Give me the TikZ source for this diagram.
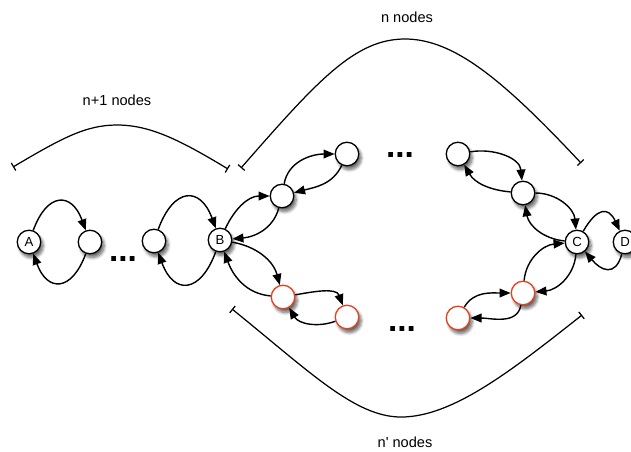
\documentclass[tikz,border=0pt]{standalone}
\usepackage{fontspec}
\newfontfamily\labelfont{Liberation Sans}
\usetikzlibrary{arrows.meta,shadows.blur}
\definecolor{ringred}{RGB}{232,62,28}
\tikzset{
  vertex/.style={circle,draw=black,fill=white,line width=0.75pt,minimum size=13.4pt,inner sep=0pt,
    font=\labelfont\fontsize{7.5}{8}\selectfont,
    blur shadow={shadow xshift=1.4pt,shadow yshift=-2.2pt,shadow blur steps=7,shadow opacity=60}},
  redvertex/.style={vertex,draw=ringred},
  link/.style={line width=0.8pt,-{Triangle[length=6.3pt,width=5pt]}},
  brace/.style={line width=0.7pt,{Bar[width=5pt]}-{Bar[width=5pt]}},
  caption/.style={font=\labelfont\fontsize{8.3}{10}\selectfont},
  gap/.style={font=\labelfont\bfseries\fontsize{19}{20}\selectfont,inner sep=0pt}
}
\begin{document}
\begin{tikzpicture}[x=0.02cm,y=0.02cm]
\useasboundingbox (0,0) rectangle (631,-451);

% left chain
\node[vertex] (A)  at (29,-242) {A};
\node[vertex] (a2) at (90,-242) {};
\node[vertex] (b0) at (154,-241) {};
\node[vertex] (B)  at (220,-240) {B};
% upper branch
\node[vertex] (u1) at (282,-196) {};
\node[vertex] (u2) at (347,-154) {};
\node[vertex] (v1) at (458,-154) {};
\node[vertex] (v2) at (523,-193) {};
% lower branch
\node[redvertex] (r1) at (283,-297) {};
\node[redvertex] (r2) at (347,-317) {};
\node[redvertex] (s1) at (458,-318) {};
\node[redvertex] (s2) at (523,-293) {};
% right end
\node[vertex] (C) at (577,-242) {C};
\node[vertex] (D) at (625,-242) {D};

% ellipses
\node[gap] (dl) at (123,-259) {...};
\node[gap] (du) at (400,-155) {...};
\node[gap] (dd) at (402,-329) {...};

% left chain links
\draw[link] (A) to[out=70,in=110,looseness=2] (a2);
\draw[link] (a2) to[out=-110,in=-70,looseness=2] (A);
\draw[link] (b0) to[out=70,in=110,looseness=2] (B);
\draw[link] (B) to[out=-110,in=-70,looseness=2] (b0);

% upper branch links
\draw[link] (B) to[out=65,in=180] (u1);
\draw[link] (u1) to[out=-105,in=5] (B);
\draw[link] (u1) to[out=80,in=180] (u2);
\draw[link] (u2) to[out=-115,in=15] (u1);
\draw[link] (v1) to[out=10,in=95] (v2);
\draw[link] (v2) to[out=175,in=-60] (v1);
\draw[link] (v2) to[out=0,in=95] (C);
\draw[link] (C) to[out=175,in=-80] (v2);

% lower branch links
\draw[link] (B) to[out=-10,in=105] (r1);
\draw[link] (r1) to[out=175,in=-70] (B);
\draw[link] (r1) to[out=10,in=110] (r2);
\draw[link] (r2) to[out=-160,in=-60] (r1);
\draw[link] (s1) to[out=60,in=180] (s2);
\draw[link] (s2) to[out=-100,in=0] (s1);
\draw[link] (C) to[out=-95,in=5] (s2);
\draw[link] (s2) to[out=85,in=185] (C);

% right end links
\draw[link] (C) to[out=60,in=115,looseness=1.9] (D);
\draw[link] (D) to[out=-105,in=-50,looseness=1.7] (C);

% size braces (bell-shaped curves with bar ends)
\coordinate (l0) at (13,-167);
\coordinate (l1) at (228,-169);
\draw[brace] (l0) .. controls (62,-138) and (86,-125) .. (117,-125)
  .. controls (150,-125) and (180,-140) .. (l1);
\node[caption] (nl) at (117,-100) {n+1 nodes};

\coordinate (t0) at (241,-168);
\coordinate (t1) at (581,-163);
\draw[brace] (t0) .. controls (318,-80) and (355,-39) .. (405,-39)
  .. controls (455,-39) and (505,-82) .. (t1);
\node[caption] (nt) at (407,-17) {n nodes};

\coordinate (b0c) at (232,-309);
\coordinate (b1c) at (582,-315);
\draw[brace] (b0c) .. controls (310,-372) and (355,-417) .. (401,-417)
  .. controls (452,-417) and (510,-372) .. (b1c);
\node[caption] (nb) at (405,-442) {n' nodes};
\end{tikzpicture}
\end{document}
